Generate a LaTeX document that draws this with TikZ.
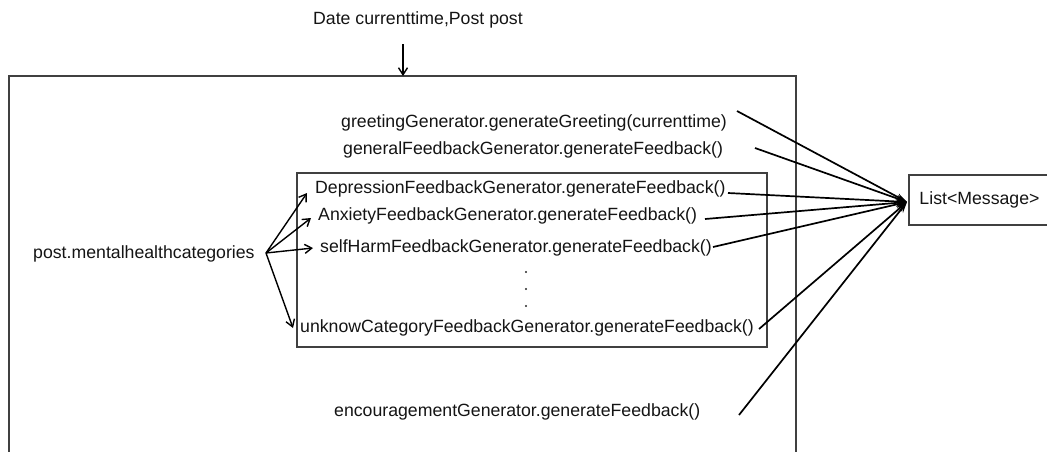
\documentclass[tikz,border=0pt]{standalone}
\usepackage{fontspec}
\setmainfont{Liberation Sans}
\usetikzlibrary{arrows.meta}
\begin{document}
\begin{tikzpicture}[x=1pt,y=-1pt,
  lbl/.style={anchor=west,inner sep=0pt,text=black!92,font=\fontsize{17.7}{21}\selectfont},
  frame/.style={draw=black!75,line width=1.8pt},
  feed/.style={draw=black,line width=1.7pt,-{Stealth[length=11pt,width=7pt]}},
  call/.style={draw=black,line width=1.4pt,-{Straight Barb[length=7pt,width=9pt,line width=1.4pt]}}]
\useasboundingbox (0,0) rectangle (1047,451);

% method body, open at the bottom
\draw[frame] (9,455) -- (9,76) -- (796,76) -- (796,455);
% box holding the per-category generators
\draw[frame] (297,173) rectangle (767,347);

% inputs
\node[lbl] (in) at (313,20) {Date currenttime,Post post};
\coordinate (inTop) at (403,44);
\coordinate (inEnd) at (403,76);
\draw[call] (inTop) -- (inEnd);

% result
\node[frame,rectangle,minimum width=141pt,minimum height=50pt,inner sep=0pt,
      font=\fontsize{17.7}{21}\selectfont,text=black!92] (list) at (979.5,200) {List<Message>};
\coordinate (hub) at (907,202);

% generator calls
\node[lbl] (greet) at (341,123) {greetingGenerator.generateGreeting(currenttime)};
\node[lbl] (general) at (343,150) {generalFeedbackGenerator.generateFeedback()};
\node[lbl] (dep) at (315,189) {DepressionFeedbackGenerator.generateFeedback()};
\node[lbl] (anx) at (318,216) {AnxietyFeedbackGenerator.generateFeedback()};
\node[lbl] (self) at (320,248) {selfHarmFeedbackGenerator.generateFeedback()};
\node[lbl] (unk) at (300,328) {unknowCategoryFeedbackGenerator.generateFeedback()};
\node[lbl] (enc) at (334,412) {encouragementGenerator.generateFeedback()};
\node[lbl] (cats) at (33,254) {post.mentalhealthcategories};

% vertical ellipsis
\foreach \y [count=\i] in {272,289,306}
  \node[circle,fill=black!85,inner sep=0pt,minimum size=2.2pt] (dot\i) at (526,\y) {};

% starting points of the lines into the result
\coordinate (sGreet) at (737,111);
\coordinate (sGeneral) at (755,148);
\coordinate (sDep) at (728,193);
\coordinate (sAnx) at (705,219);
\coordinate (sSelf) at (713,247);
\coordinate (sUnk) at (759,329);
\coordinate (sEnc) at (739,415);

\foreach \s in {sGreet,sGeneral,sDep,sAnx,sSelf,sUnk,sEnc}
  \draw[feed] (\s) -- (hub);

% dispatch on the categories
\coordinate (fork) at (266,253);
\coordinate (tDep) at (307,193);
\coordinate (tAnx) at (311,218);
\coordinate (tSelf) at (313,248);
\coordinate (tUnk) at (293,328);
\draw[call] (fork) -- (tDep);
\draw[call] (fork) -- (tAnx);
\draw[call] (fork) -- (tSelf);
\draw[call] (fork) -- (tUnk);
\end{tikzpicture}
\end{document}
